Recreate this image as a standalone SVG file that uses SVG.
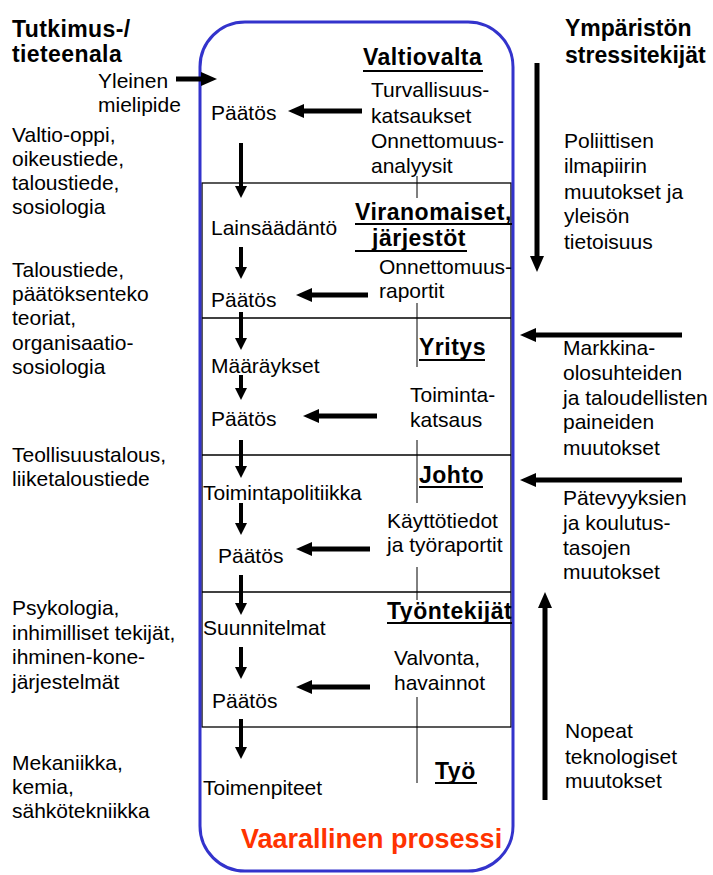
<svg xmlns="http://www.w3.org/2000/svg" width="713" height="875" viewBox="0 0 713 875">
  <style>
    text { font-family: "Liberation Sans", Arial, sans-serif; fill: #000; }
    .t { font-size: 21px; }
    .h { font-size: 23px; font-weight: bold; }
    .u { stroke: #000; stroke-width: 2; }
    .rule { stroke: #000; stroke-width: 1.3; fill: none; }
    .thin { stroke: #000; stroke-width: 1; }
    .arr { stroke: #000; stroke-width: 5; fill: none; marker-end: url(#head); }
    .dn { stroke: #000; stroke-width: 4; fill: none; marker-end: url(#headS); }
  </style>
  <defs>
    <marker id="head" markerUnits="userSpaceOnUse" markerWidth="16" markerHeight="14" refX="4" refY="7" orient="auto">
      <path d="M0,0 L16,7 L0,14 z" fill="#000"/>
    </marker>
    <marker id="headS" markerUnits="userSpaceOnUse" markerWidth="12" markerHeight="12" refX="3" refY="6" orient="auto">
      <path d="M0,0 L12,6 L0,12 z" fill="#000"/>
    </marker>
  </defs>

  <rect width="713" height="875" fill="#fff"/>

  <!-- process column frame, level dividers and the thin column rule -->
  <g id="frame">
    <rect x="202" y="183" width="309" height="544" class="rule"/>
    <line x1="202" y1="318" x2="511" y2="318" class="rule"/>
    <line x1="202" y1="455" x2="511" y2="455" class="rule"/>
    <line x1="202" y1="592" x2="511" y2="592" class="rule"/>
    <line x1="417" y1="176" x2="417" y2="198" class="thin"/>
    <line x1="417" y1="303" x2="417" y2="367" class="thin"/>
    <line x1="417" y1="440" x2="417" y2="503" class="thin"/>
    <line x1="417" y1="567" x2="417" y2="600" class="thin"/>
    <line x1="417" y1="697" x2="417" y2="783" class="thin"/>
    <rect x="200" y="22" width="313" height="849" rx="45" ry="45" fill="none" stroke="#3333cc" stroke-width="3"/>
  </g>

  <!-- left column: research fields -->
  <g id="fields-title">
    <text class="h" x="12" y="37" font-size="22" letter-spacing="0.4">Tutkimus-/</text>
    <text class="h" x="12" y="62" font-size="22" letter-spacing="0.4">tieteenala</text>
  </g>
  <g id="public-opinion">
    <text class="t" x="98" y="88">Yleinen</text>
    <text class="t" x="98" y="112">mielipide</text>
  </g>
  <g id="field-1">
    <text class="t" x="12" y="142">Valtio-oppi,</text>
    <text class="t" x="12" y="166">oikeustiede,</text>
    <text class="t" x="12" y="190">taloustiede,</text>
    <text class="t" x="12" y="214">sosiologia</text>
  </g>
  <g id="field-2">
    <text class="t" x="12" y="277">Taloustiede,</text>
    <text class="t" x="12" y="301">päätöksenteko</text>
    <text class="t" x="12" y="325">teoriat,</text>
    <text class="t" x="12" y="350">organisaatio-</text>
    <text class="t" x="12" y="374">sosiologia</text>
  </g>
  <g id="field-3">
    <text class="t" x="12" y="462">Teollisuustalous,</text>
    <text class="t" x="12" y="486">liiketaloustiede</text>
  </g>
  <g id="field-4">
    <text class="t" x="12" y="615">Psykologia,</text>
    <text class="t" x="12" y="640">inhimilliset tekijät,</text>
    <text class="t" x="12" y="664">ihminen-kone-</text>
    <text class="t" x="12" y="689">järjestelmät</text>
  </g>
  <g id="field-5">
    <text class="t" x="12" y="770">Mekaniikka,</text>
    <text class="t" x="12" y="794">kemia,</text>
    <text class="t" x="12" y="818">sähkötekniikka</text>
  </g>

  <!-- decision chain -->
  <g id="decision-1"><text class="t" x="211" y="120">Päätös</text></g>
  <g id="legislation"><text class="t" x="211" y="235">Lainsäädäntö</text></g>
  <g id="decision-2"><text class="t" x="211" y="307">Päätös</text></g>
  <g id="regulations"><text class="t" x="211" y="373">Määräykset</text></g>
  <g id="decision-3"><text class="t" x="211" y="426">Päätös</text></g>
  <g id="policy"><text class="t" x="203" y="500">Toimintapolitiikka</text></g>
  <g id="decision-4"><text class="t" x="218" y="563">Päätös</text></g>
  <g id="plans"><text class="t" x="203" y="635">Suunnitelmat</text></g>
  <g id="decision-5"><text class="t" x="212" y="708">Päätös</text></g>
  <g id="actions"><text class="t" x="203" y="795">Toimenpiteet</text></g>
  <g id="process">
    <text x="241" y="848" font-size="27" font-weight="bold" style="fill:#ff3300">Vaarallinen prosessi</text>
  </g>

  <!-- actor levels and their feedback -->
  <g id="state">
    <text class="h" x="363" y="65" letter-spacing="0.5">Valtiovalta</text>
    <line x1="363" y1="71" x2="483" y2="71" class="u"/>
    <text class="t" x="371" y="97">Turvallisuus-</text>
    <text class="t" x="371" y="123">katsaukset</text>
    <text class="t" x="371" y="148">Onnettomuus-</text>
    <text class="t" x="371" y="173">analyysit</text>
  </g>
  <g id="authorities">
    <text class="h" x="355" y="220" letter-spacing="0.5">Viranomaiset,</text>
    <line x1="355" y1="224" x2="512" y2="224" class="u"/>
    <text class="h" x="372" y="246" letter-spacing="0.5">järjestöt</text>
    <line x1="355" y1="251" x2="467" y2="251" class="u"/>
    <text class="t" x="379" y="274">Onnettomuus-</text>
    <text class="t" x="379" y="298">raportit</text>
  </g>
  <g id="company">
    <text class="h" x="419" y="355" letter-spacing="0.5">Yritys</text>
    <line x1="419" y1="360" x2="485" y2="360" class="u"/>
    <text class="t" x="410" y="402">Toiminta-</text>
    <text class="t" x="410" y="427">katsaus</text>
  </g>
  <g id="management">
    <text class="h" x="419" y="483" letter-spacing="0.5">Johto</text>
    <line x1="419" y1="487" x2="483" y2="487" class="u"/>
    <text class="t" x="387" y="528">Käyttötiedot</text>
    <text class="t" x="387" y="552">ja työraportit</text>
  </g>
  <g id="staff">
    <text class="h" x="387" y="619" letter-spacing="0.5">Työntekijät</text>
    <line x1="387" y1="623" x2="512" y2="623" class="u"/>
    <text class="t" x="394" y="665">Valvonta,</text>
    <text class="t" x="394" y="690">havainnot</text>
  </g>
  <g id="work">
    <text class="h" x="435" y="779" letter-spacing="0.5">Työ</text>
    <line x1="435" y1="783" x2="477" y2="783" class="u"/>
  </g>

  <!-- right column: environmental stressors -->
  <g id="stressors-title">
    <text class="h" x="565" y="36">Ympäristön</text>
    <text class="h" x="565" y="63">stressitekijät</text>
  </g>
  <g id="stressor-1">
    <text class="t" x="564" y="148">Poliittisen</text>
    <text class="t" x="564" y="173">ilmapiirin</text>
    <text class="t" x="564" y="199">muutokset ja</text>
    <text class="t" x="564" y="223">yleisön</text>
    <text class="t" x="564" y="249">tietoisuus</text>
  </g>
  <g id="stressor-2">
    <text class="t" x="563" y="355">Markkina-</text>
    <text class="t" x="563" y="380">olosuhteiden</text>
    <text class="t" x="563" y="405">ja taloudellisten</text>
    <text class="t" x="563" y="429">paineiden</text>
    <text class="t" x="563" y="455">muutokset</text>
  </g>
  <g id="stressor-3">
    <text class="t" x="563" y="505">Pätevyyksien</text>
    <text class="t" x="563" y="530">ja koulutus-</text>
    <text class="t" x="563" y="555">tasojen</text>
    <text class="t" x="563" y="579">muutokset</text>
  </g>
  <g id="stressor-4">
    <text class="t" x="565" y="738">Nopeat</text>
    <text class="t" x="565" y="764">teknologiset</text>
    <text class="t" x="565" y="788">muutokset</text>
  </g>

  <g id="connectors">
    <!-- public opinion into the state level -->
    <line x1="176" y1="79" x2="205" y2="79" class="arr"/>
    <!-- feedback arrows into each decision -->
    <line x1="362" y1="111" x2="300" y2="111" class="arr"/>
    <line x1="368" y1="295" x2="308" y2="295" class="arr"/>
    <line x1="377" y1="416" x2="315" y2="416" class="arr"/>
    <line x1="370" y1="549" x2="308" y2="549" class="arr"/>
    <line x1="370" y1="687" x2="308" y2="687" class="arr"/>
    <!-- downward chain -->
    <line x1="241" y1="143" x2="241" y2="189" class="dn"/>
    <line x1="241" y1="247" x2="241" y2="270" class="dn"/>
    <line x1="241" y1="312" x2="241" y2="341" class="dn"/>
    <line x1="241" y1="375" x2="241" y2="391" class="dn"/>
    <line x1="241" y1="440" x2="241" y2="469" class="dn"/>
    <line x1="241" y1="503" x2="241" y2="526" class="dn"/>
    <line x1="241" y1="575" x2="241" y2="606" class="dn"/>
    <line x1="241" y1="647" x2="241" y2="670" class="dn"/>
    <line x1="241" y1="719" x2="241" y2="750" class="dn"/>
    <!-- environmental pressures -->
    <line x1="537" y1="63" x2="537" y2="260" class="arr"/>
    <line x1="682" y1="335" x2="532" y2="335" class="arr"/>
    <line x1="682" y1="480" x2="532" y2="480" class="arr"/>
    <line x1="545" y1="800" x2="545" y2="604" class="arr"/>
  </g>
</svg>
